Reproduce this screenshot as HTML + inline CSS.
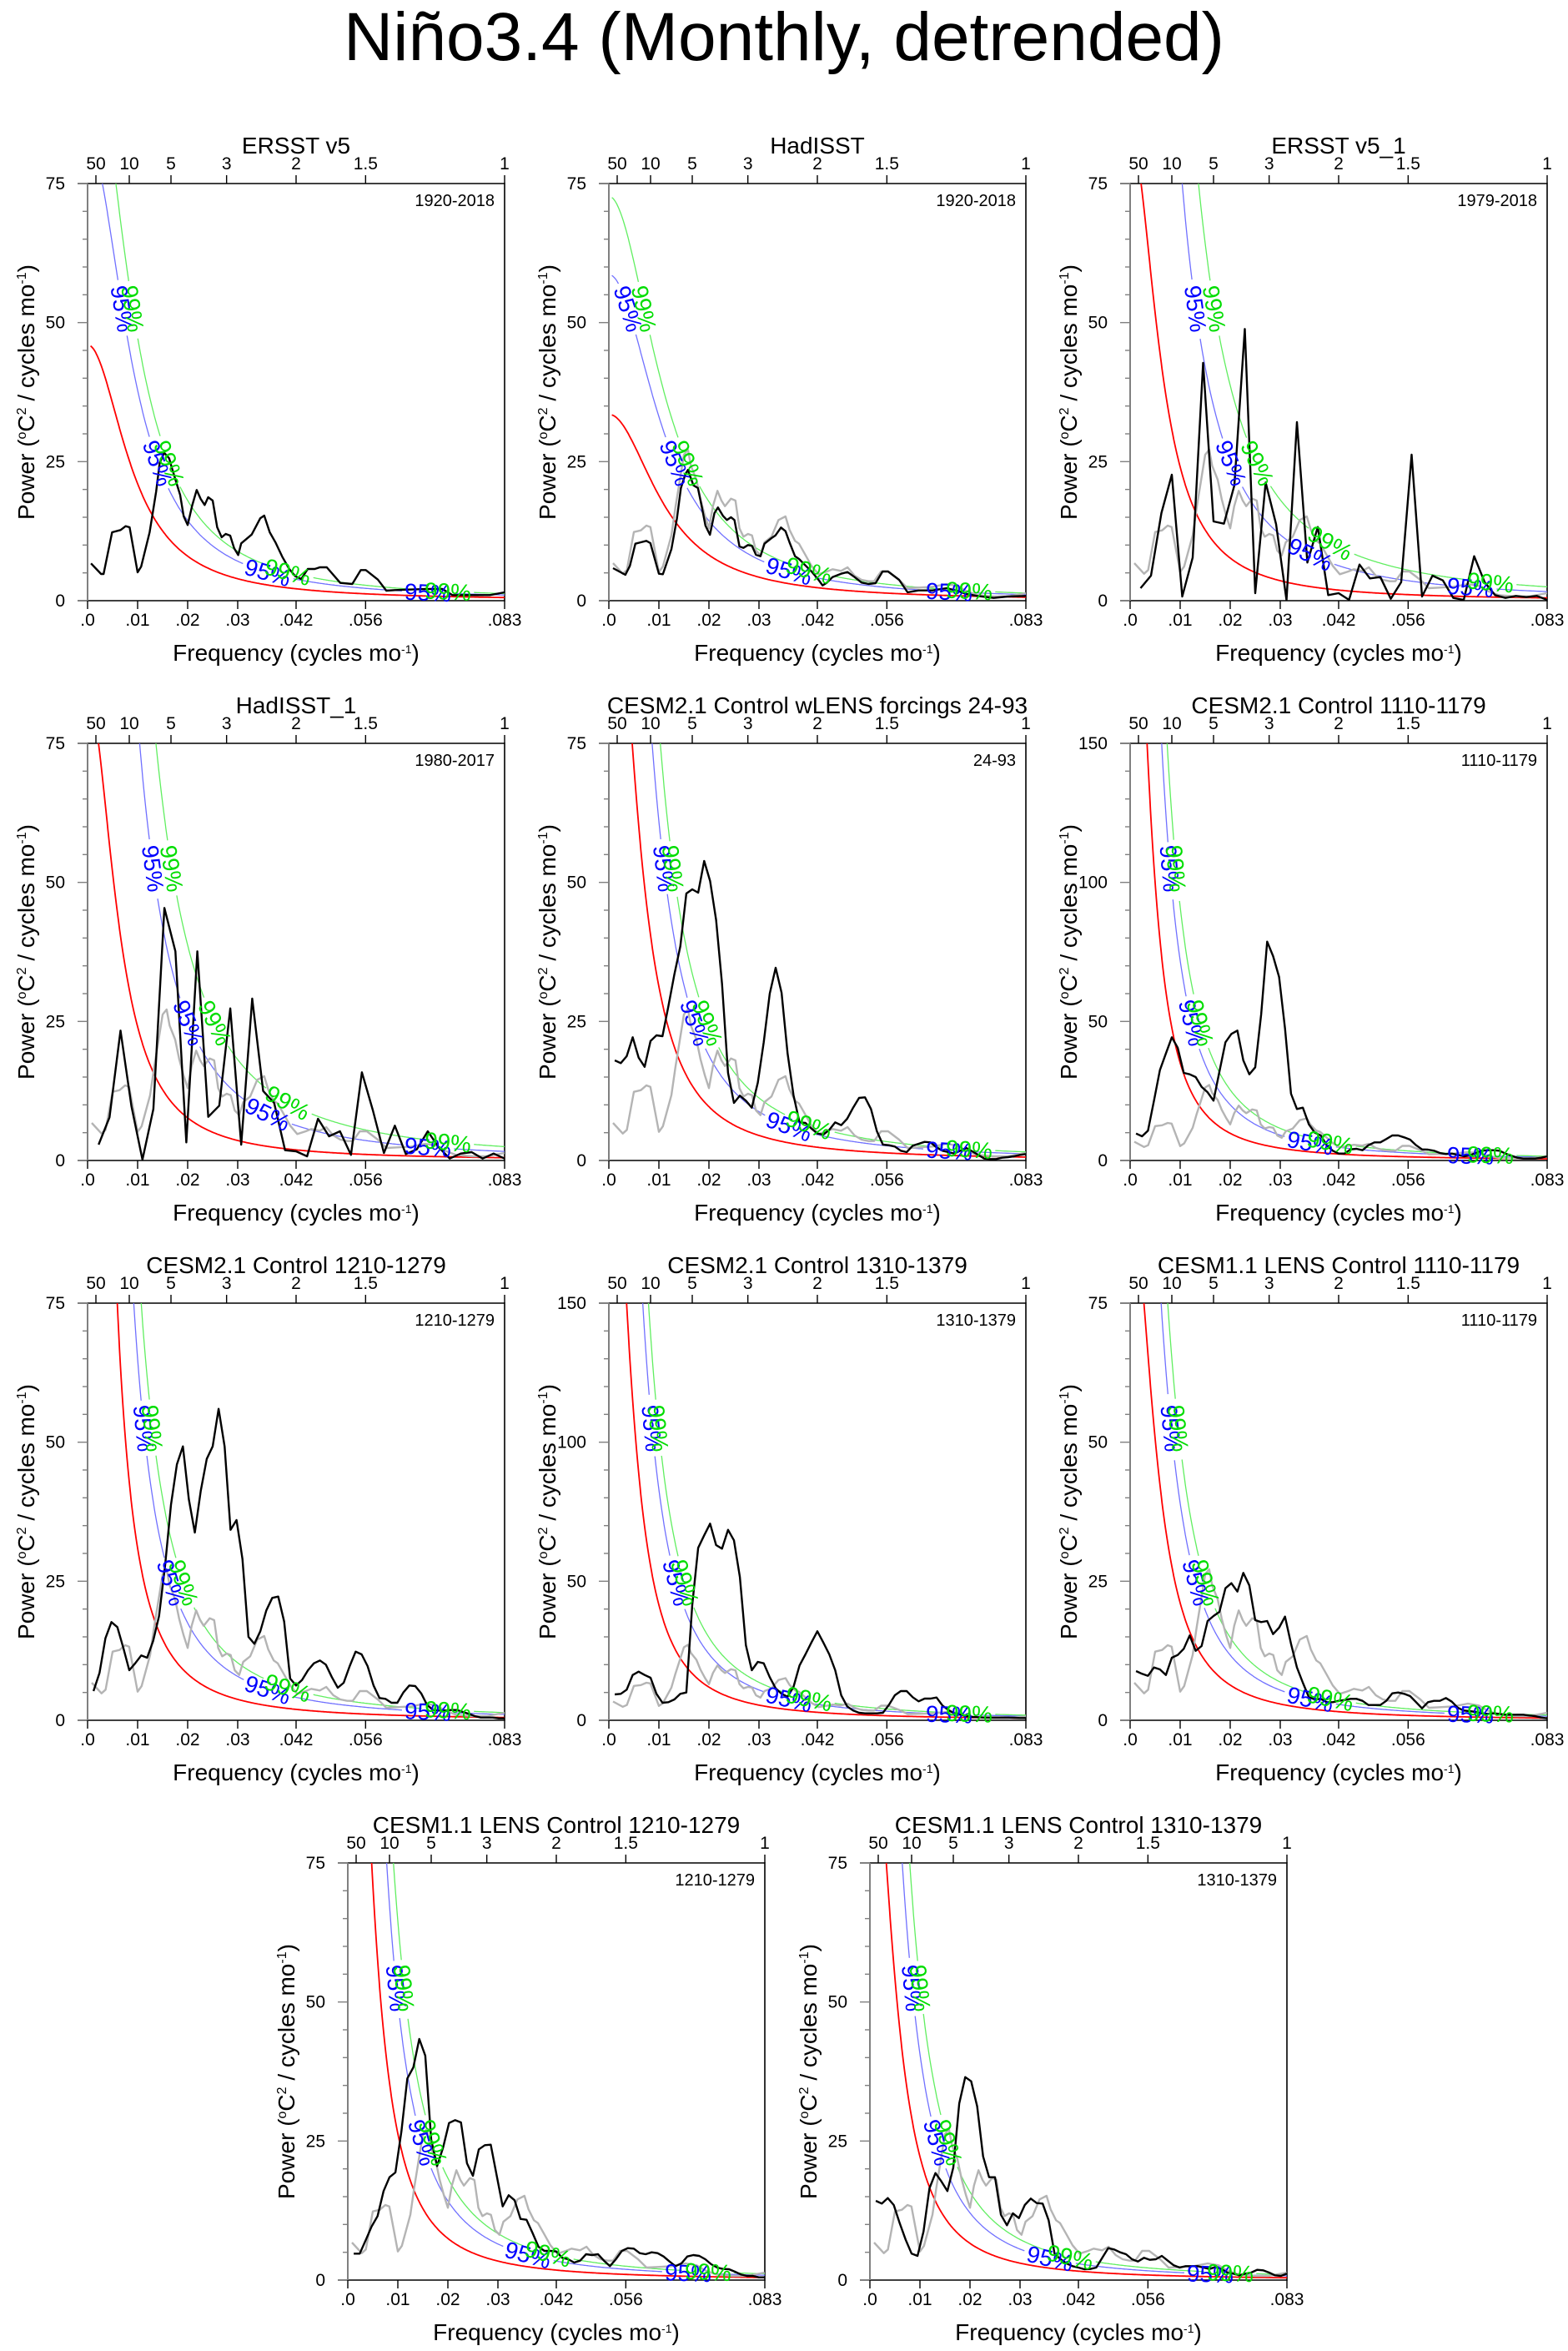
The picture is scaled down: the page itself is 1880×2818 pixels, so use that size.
<!DOCTYPE html>
<html><head><meta charset="utf-8"><title>Niño3.4 (Monthly, detrended)</title>
<style>
html,body{margin:0;padding:0;background:#fff;}
svg{display:block;font-family:"Liberation Sans",Arial,sans-serif;}
</style></head>
<body>
<svg id="fig" xmlns="http://www.w3.org/2000/svg" width="1880" height="2818" viewBox="0 0 1880 2818">
<rect x="0" y="0" width="1880" height="2818" fill="#fff"/>
<text x="940" y="72" font-size="82" text-anchor="middle" fill="#000">Niño3.4 (Monthly, detrended)</text>
</svg>
<script>
// ---------- data ----------
const panelTitles = ["ERSST v5","HadISST","ERSST v5_1","HadISST_1","CESM2.1 Control wLENS forcings 24-93","CESM2.1 Control 1110-1179","CESM2.1 Control 1210-1279","CESM2.1 Control 1310-1379","CESM1.1 LENS Control 1110-1179","CESM1.1 LENS Control 1210-1279","CESM1.1 LENS Control 1310-1379"];
const periodLabels = ["1920-2018","1920-2018","1979-2018","1980-2017","24-93","1110-1179","1210-1279","1310-1379","1110-1179","1210-1279","1310-1379"];
const yMaxes = [75,75,75,75,75,150,75,150,75,75,75];
const bottomTickVals = [0,0.01,0.02,0.03,1/24,1/18,1/12];
const bottomTickLabels = [".0",".01",".02",".03",".042",".056",".083"];
const topPeriods = [50,10,5,3,2,1.5,1];
const topPeriodLabels = ["50","10","5","3","2","1.5","1"];
// red-noise (Markov) spectrum parameters & confidence multipliers
const redS0 = [46,33.5,84,84,123,260,330,240,95,165,105];
const redLag = [0.944,0.931,0.961,0.961,0.964,0.9755,0.98,0.9717,0.967,0.973,0.968];
const ci95 = [1.8,1.75,3.3,3.3,1.95,2.05,2.1,2.0,1.85,1.9,1.83];
const ci99 = [2.25,2.17,5.05,5.05,2.5,2.6,2.75,2.5,2.35,2.45,2.4];
const showGray = [false,true,true,true,true,true,true,true,true,true,true];
// record lengths in months (spectral resolution 1/months)
const recordMonths = [1188,1188,480,456,840,840,840,840,840,840,840];

// gray reference spectrum
const grayFreq = [.00083,.00278,.0036,.005,.0064,.0075,.0083,.01,.0108,.0125,.0133,.0142,.015,.0158,.0164,.0175,.0183,.0192,.02,.0208,.0217,.0225,.0232,.0244,.0253,.0261,.0269,.0278,.0286,.0294,.0303,.0311,.0325,.0339,.0353,.0361,.0372,.038,.0391,.0405,.0419,.0436,.0447,.0464,.0477,.0491,.0505,.0519,.053,.0544,.0558,.058,.0597,.0619,.0647,.0675,.0697,.0714,.0736,.0769,.0797,.0833];
const grayPower = [6.75,4.85,5.5,12.35,12.65,13.5,13.25,5.15,6.15,11.75,16.75,21.75,26.25,27.15,24.25,21.75,18.25,15.25,13,17,19.75,18,17,18.35,18,13,11.5,12,11.75,9,8.15,10.5,11.5,14.5,15.15,12.75,10.75,10.25,8.5,6.25,4.75,5.25,5.65,5.35,6,4.5,3.75,3.5,3.5,5.25,5.25,3.75,2.25,2.35,2.5,3,2.65,1.75,1,.75,.75,1.35];

const p1Freq = [.00068,.0027,.0032,.0049,.0066,.0076,.0084,.0100,.0107,.0124,.0137,.0144,.0153,.0163,.0168,.0185,.0192,.0200,.0209,.0218,.0226,.0234,.0241,.0250,.0259,.0268,.0276,.0285,.0293,.0301,.0307,.0328,.0345,.0353,.0364,.0376,.0389,.0403,.0415,.0427,.0440,.0454,.0464,.0478,.0505,.0529,.0546,.0556,.0580,.0597,.0614,.0641,.0675,.0709,.0729,.0777,.0804,.0833];
const p1Power = [6.7,4.8,4.8,12.3,12.7,13.4,13.2,5.1,6.1,12.3,19.6,24.7,26.6,25.6,24.0,19.0,15.2,13.6,17.1,19.9,18.3,17.2,18.6,18.0,13.2,11.4,12.0,11.7,9.4,8.2,10.3,11.9,14.8,15.3,12.3,10.4,7.9,5.7,4.4,3.9,5.7,5.7,6.0,6.0,3.2,3.0,5.5,5.5,3.8,1.8,1.9,2.0,2.1,2.1,1.0,1.0,1.0,1.5];
const p2Freq = [.00083,.0033,.0042,.0053,.0064,.0075,.0083,.01,.0108,.0125,.0136,.0144,.0153,.0158,.0169,.0178,.0186,.0193,.0202,.0211,.0218,.0228,.0236,.0244,.0251,.0261,.0269,.0278,.0286,.0294,.0303,.0311,.0325,.0333,.0344,.0353,.0361,.0372,.038,.0391,.0405,.0419,.0427,.0436,.0447,.0464,.0477,.0491,.0505,.0519,.0533,.0547,.0558,.058,.0597,.0619,.0647,.0675,.0697,.0713,.0736,.0769,.0797,.0833];
const p2Power = [5.85,4.65,6.25,10.25,10.5,10.75,10.35,4.85,4.75,9.25,14.75,20.25,22.75,23.5,20.75,20.25,16.75,13.5,11.85,15.75,16.75,15.25,14.5,15,14.5,9.75,9.5,10,9.85,8.25,8,10.25,11.25,11.75,13.15,12.5,10.5,8,7.5,6.5,5.25,3.75,2.75,3.25,4.25,4.85,5.15,4.25,3.25,3,3.15,5.25,5.25,3.75,1.5,1.85,1.85,2.25,1.75,1.25,.85,.5,.75,.85];
const p3Power = [2.25,4.5,15.75,22.65,.75,7.75,42.75,14.25,13.85,20.75,48.85,1.35,21.25,13.75,.1,32.1,6.85,13.25,1,1.35,.15,6.5,4,4.25,.35,3.35,26.25,.75,4.5,3.65,.5,.15,8,3.35,1,.5,.85,.65,.85,.15];
const p4Power = [2.85,7.75,23.35,9.75,.15,9.25,45.4,37.6,3.25,37.6,7.85,9.85,27.35,2.85,29.1,12.5,10.35,1.85,1.65,.75,7.5,4.35,5.25,1,15.85,9,1.35,6.25,1.15,2,5.25,2.35,.35,1.25,1.5,.35,1.25,.35];
const p5Power = [18,17.5,18.75,22.15,18.5,16.85,21.5,22.5,22.35,27.75,33.5,38.5,48,48.75,48.15,53.85,50.25,43.25,31.75,15.75,10.35,11.65,10.75,9.5,14,21.25,30,34.65,30.15,19.25,11.75,6.85,6.75,5.75,4.85,4.65,5.5,6.85,6.35,7.5,9.5,11.25,11.35,9.25,5.25,2.85,2.75,2.5,1.75,1.5,2.65,3,3.35,3.25,2.35,1.75,1.5,1.25,1.75,2.25,1.65,1,.35,.25,.25,.5,.6,.75,1,1.15];
const p6Power = [9.7,8.7,10.7,21.5,32.5,38.5,44.3,40.5,31.5,31,30,26.5,24.5,21.5,32,42.5,45.5,46.7,36,31,33.5,52.5,78.7,73.5,66,47.5,24,18.5,19,13,10,9,5.5,3.5,2.5,2.5,4,4.2,3.7,5.5,6.5,6.5,7.7,9,9,8.3,7.5,5.5,4,3.9,3.5,2.7,2.3,2.5,2,1.5,1.8,2.7,3.5,3.7,3.7,3.5,2.5,1.7,1,.7,.7,.7,1,1.5];
const p7Power = [5.25,8.5,14.75,17.65,16.75,13,9,10.25,11.65,11.25,14.25,18.75,27.75,38.75,46,49.25,39.75,33.75,41.25,47,49.25,56,49.25,34.25,36,29,15,13.75,16,19.75,22,22.25,17.75,7.5,6.25,7.25,9,10.25,10.75,10,7.75,5.85,6.75,9.75,12.35,11.85,9.75,6.25,4,3.85,3.15,3.15,5,6.25,6.15,4.85,2.75,1.85,1.75,1.75,1.85,1.85,1.5,1.15,.75,.5,.5,.5,.35,.35];
const p8Power = [9.3,9.5,11,16.3,17.5,16.3,15.3,9.5,6.3,6.5,7.5,9.5,10,41.5,62,66.5,70.7,63,61.7,68.5,64.7,51.5,27,18,21,20.5,15.5,11.5,9.5,8.5,12,19.7,23.7,28,32,28,23.7,18,9,5,3.5,2.7,2.5,2.5,2.5,2.7,5.5,9,10.5,10.5,8.3,6.8,7.8,7.8,8.2,5.3,3.7,2.5,2,1.5,1.2,1.1,1,1,1,1,1,.9,.8,.8];
const p9Power = [8.85,8.35,8,9.5,9.15,8.15,11.25,11.75,12.85,15.25,12.5,13.35,17.85,18.75,19.5,23.75,24.65,23.15,26.5,24.25,18,17.65,17.85,15.5,16.65,18.65,13.75,9.5,6.75,4.15,3.75,3.85,3.25,3.25,3.5,3.65,3.85,3.85,3.5,2.75,2.75,2.75,3.5,4.85,5,4.75,4.35,3.25,2.15,3.25,3.5,3.5,4,3.35,2.25,1.75,1.65,1.5,1.25,1.15,1.25,1.15,1,1,1,1,.85,.75,.5,.35];
const p10Power = [4.75,4.75,7.15,9.65,11.5,16,18.5,19.35,26.75,36.25,38.25,43.35,40.35,25.25,20.5,23.85,28.25,28.75,28.35,21,18.75,23.5,24.25,24.35,18.75,13.25,15.25,14.35,11,10.85,8.5,6,5.25,5.25,5.15,4,3.75,3.15,3.5,4.65,4.5,4.65,3.5,2.5,3.75,5.25,5.75,5.65,4.85,4.65,5,4.85,4.25,3.35,2.5,3,4.25,4.5,4.35,3.75,2.85,2.25,2,1.95,1.5,1,.75,.75,.5,.5];
const p11Power = [14.25,13.75,14.75,13.5,10.25,7.25,4.75,4.35,8.75,16.5,19.25,17.75,16,20.25,31.75,36.5,35.75,31.25,22.25,18.5,18.5,11.75,9.85,12,11.15,13.5,14.65,13.85,13.75,10.75,4.75,3.75,3,2.5,2.25,1.95,2,2.25,4,5.75,5.5,5,4.65,3.75,3.35,4,3.65,3.75,4.35,3.5,2.65,2.25,2.5,2.5,2.5,2.25,2,2.35,2,1.35,1.15,.85,1.15,1.35,1.85,1.75,1.35,.85,.75,1.15];

// ---------- layout ----------
const panelLeft = [105,730,1355,105,730,1355,105,730,1355,417,1043];
const panelTop = [220,220,220,891,891,891,1562,1562,1562,2233,2233];
const PW = 500, PH = 500, XMAX = 1/12;
const NS = "http://www.w3.org/2000/svg";
const svg = document.getElementById('fig');

function mk(tag, attrs, parent){
  const e = document.createElementNS(NS, tag);
  for (const k in attrs) e.setAttribute(k, attrs[k]);
  parent.appendChild(e);
  return e;
}
function harmonicFreqs(n, months){ const f=[]; for(let k=1;k<=n;k++) f.push(k/months); return f; }
function markov(f, S0, r){ const a=(1-r)*(1-r); return S0*a/(1-2*r*Math.cos(2*Math.PI*f)+r*r); }

const blackFreqs = [p1Freq, p2Freq,
  harmonicFreqs(p3Power.length, recordMonths[2]), harmonicFreqs(p4Power.length, recordMonths[3]),
  harmonicFreqs(70, recordMonths[4]), harmonicFreqs(70, recordMonths[5]), harmonicFreqs(70, recordMonths[6]),
  harmonicFreqs(70, recordMonths[7]), harmonicFreqs(70, recordMonths[8]), harmonicFreqs(70, recordMonths[9]),
  harmonicFreqs(70, recordMonths[10])];
const blackPowers = [p1Power,p2Power,p3Power,p4Power,p5Power,p6Power,p7Power,p8Power,p9Power,p10Power,p11Power];

function supText(parent, parts, attrs){
  const t = mk('text', attrs, parent);
  parts.forEach(p=>{
    const s = mk('tspan', {}, t);
    s.textContent = p[0];
    if (p[1]) { s.setAttribute('dy', p[1]); }
    if (p[2]) { s.setAttribute('font-size', p[2]); }
  });
  return t;
}

for (let i=0;i<11;i++){
  const L = panelLeft[i], T = panelTop[i], ymax = yMaxes[i];
  const X = f => L + f/XMAX*PW;
  const Y = v => T + PH - v/ymax*PH;
  const g = mk('g', {}, svg);
  
  

  const cp = mk('clipPath', {id:'clip'+i}, g);
  mk('rect', {x:L, y:T, width:PW, height:PH}, cp);

  const title = mk('text', {x:L+PW/2, y:T-36, 'font-size':28, 'text-anchor':'middle'}, g);
  title.textContent = panelTitles[i];
  
  
  const pl = mk('text', {x:L+PW-12, y:T+27, 'font-size':20, 'text-anchor':'end'}, g);
  pl.textContent = periodLabels[i];
  
  

  const frame = mk('path', {d:`M${L-12},${T}H${L+PW}V${T+PH}H${L-12}`, fill:'none', stroke:'#000', 'stroke-width':1.6}, g);
  
  
  const yaxis = mk('line', {x1:L, y1:T, x2:L, y2:T+PH, stroke:'#808080', 'stroke-width':2}, g);
  
  

  const major = ymax===150?50:25, minor = ymax===150?10:5;
  for (let v=0; v<=ymax+0.001; v+=minor){
    const isMaj = Math.abs(v/major - Math.round(v/major))<1e-6;
    mk('line', {x1:L-(isMaj?12:6), y1:Y(v), x2:L, y2:Y(v), stroke:'#808080', 'stroke-width':1.4}, g);
    if (isMaj){
      const t = mk('text', {x:L-27, y:Y(v)+7, 'font-size':21, 'text-anchor':'end'}, g);
      t.textContent = String(v);
      
      
    }
  }
  bottomTickVals.forEach((f,j)=>{
    mk('line', {x1:X(f), y1:T+PH, x2:X(f), y2:T+PH+10, stroke:'#000', 'stroke-width':1.4}, g);
    const t = mk('text', {x:X(f), y:T+PH+30, 'font-size':21, 'text-anchor':'middle'}, g);
    t.textContent = bottomTickLabels[j];
    
    
  });
  topPeriods.forEach((p,j)=>{
    const f = 1/(12*p);
    mk('line', {x1:X(f), y1:T, x2:X(f), y2:T-10, stroke:'#000', 'stroke-width':1.4}, g);
    const t = mk('text', {x:X(f), y:T-17, 'font-size':21, 'text-anchor':'middle'}, g);
    t.textContent = topPeriodLabels[j];
    
    
  });
  const xt = supText(g, [["Frequency (cycles mo"],["-1","-9",14],[")","9"]], {x:L+PW/2, y:T+PH+72, 'font-size':28, 'text-anchor':'middle'});
  
  
  const yt = supText(g, [["Power ("],["o","-10",16],["C","10"],["2","-10",16],[" / cycles mo","10"],["-1","-10",16],[")","10"]],
     {x:0, y:0, 'font-size':28, 'text-anchor':'middle', transform:`translate(${L-64},${T+PH/2}) rotate(-90)`});
  
  

  const plot = mk('g', {'clip-path':`url(#clip${i})`}, g);

  const fs = []; for (let k=0;k<=500;k++) fs.push(0.0006 + k*(XMAX-0.0006)/500);
  const S0 = redS0[i], r = redLag[i];
  const red = f => markov(f,S0,r);
  const curveSpecs = [
    {mult:ci95[i], color:'#7070ff', lab:'95%', labColor:'#0000ff', fixed:[0.036,0.068], name:'ci95-curve'},
    {mult:ci99[i], color:'#60ee60', lab:'99%', labColor:'#00dd00', fixed:[0.040,0.072], name:'ci99-curve'}
  ];
  curveSpecs.forEach(cs=>{
    const fn = f => red(f)*cs.mult;
    const labs = [];
    [0.7, 0.33].forEach(frac=>{
      const target = frac*ymax;
      let lo=0.0006, hi=XMAX;
      if (fn(hi) > target || fn(lo) < target) return;
      for (let it=0; it<50; it++){ const m=(lo+hi)/2; if (fn(m)>target) lo=m; else hi=m; }
      labs.push(lo);
    });
    cs.fixed.forEach(f=>labs.push(f));
    const lp = labs.map(f=>{
      const x=X(f), y=Y(fn(f));
      const dx = X(f+0.0005)-X(f-0.0005), dy = Y(fn(f+0.0005))-Y(fn(f-0.0005));
      return {x, y, ang: Math.atan2(dy,dx)*180/Math.PI};
    });
    let seg = [];
    const flush = ()=>{ if (seg.length>1){ const pl=mk('polyline',{points:seg.join(' '), fill:'none', stroke:cs.color, 'stroke-width':1.3}, plot);   } seg=[]; };
    fs.forEach(f=>{
      const x=X(f), y=Math.max(T-50, Y(fn(f)));
      const near = lp.some(p=>Math.hypot(p.x-x,p.y-y)<31);
      if (near) flush(); else seg.push(x.toFixed(1)+','+y.toFixed(1));
    });
    flush();
    lp.forEach(p=>{
      if (p.x > L+PW-10) return;
      const t = mk('text', {x:p.x, y:p.y+10, 'font-size':28, 'text-anchor':'middle', fill:cs.labColor, transform:`rotate(${p.ang.toFixed(1)},${p.x.toFixed(1)},${p.y.toFixed(1)})`}, g);
      t.textContent = cs.lab;
      
      
    });
  });
  const redPts = fs.map(f=>X(f).toFixed(1)+','+Math.max(T-50,Y(red(f))).toFixed(1)).join(' ');
  const rl = mk('polyline', {points:redPts, fill:'none', stroke:'#ff0000', 'stroke-width':1.8}, plot);
  
  

  if (showGray[i]){
    const gp = grayFreq.map((f,j)=>X(f).toFixed(1)+','+Y(grayPower[j]).toFixed(1)).join(' ');
    const gl = mk('polyline', {points:gp, fill:'none', stroke:'#b4b4b4', 'stroke-width':2.4, 'stroke-linejoin':'round'}, plot);
    
    
  }
  const bf = blackFreqs[i], bp = blackPowers[i];
  const pts = bf.map((f,j)=>X(f).toFixed(1)+','+Y(bp[j]).toFixed(1)).join(' ');
  const bl = mk('polyline', {points:pts, fill:'none', stroke:'#000', 'stroke-width':2.4, 'stroke-linejoin':'round'}, plot);
  
  
}
</script>
</body></html>
